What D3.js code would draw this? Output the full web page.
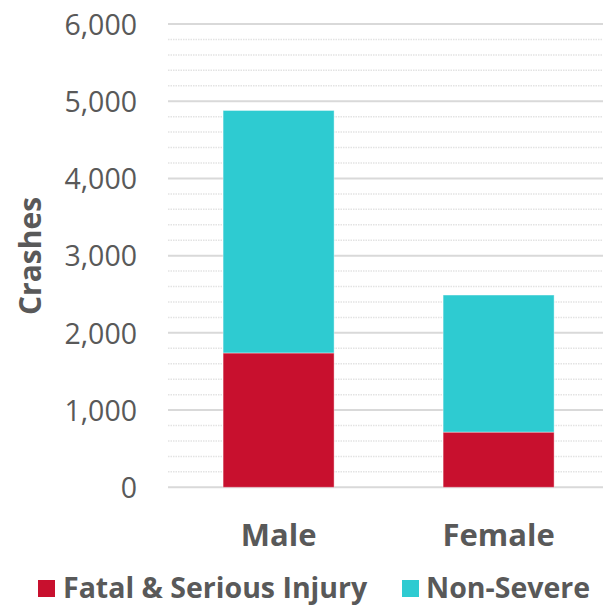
<!DOCTYPE html>
<html>
<head>
<meta charset="utf-8">
<script src="https://cdn.jsdelivr.net/npm/d3@7"></script>
<style>
  html, body { margin: 0; padding: 0; background: #fff; }
  svg { display: block; }
  text { font-family: "Open Sans", "Noto Sans", sans-serif; fill: #595959; }
</style>
</head>
<body>
<svg id="chart" width="604" height="605"></svg>
<script>
const categories = ["Male", "Female"];
const seriesNames = ["Fatal & Serious Injury", "Non-Severe"];
const fatalSerious = [1740, 715];
const nonSevere = [3140, 1775];
const yTicks = [0, 1000, 2000, 3000, 4000, 5000, 6000];
const minorTicks = d3.range(0, 6001, 200);
const colors = ["#C8102E", "#2ECBD1"];

const svg = d3.select("#chart");
const plot = { left: 168, right: 603, top: 24, bottom: 487.3 };

const y = d3.scaleLinear().domain([0, 6000]).range([plot.bottom, plot.top]);
const x = d3.scaleBand().domain(categories).range([168.6, 608.6])
  .paddingInner(0.4955).paddingOuter(0.2477);

// minor gridlines
svg.append("g").selectAll("line").data(minorTicks.filter(v => v % 1000 !== 0)).join("line")
  .attr("x1", plot.left).attr("x2", plot.right)
  .attr("y1", d => y(d)).attr("y2", d => y(d))
  .attr("stroke", "#e3e3e3").attr("stroke-width", 1.5).attr("stroke-dasharray", "1.5,1");

// major gridlines
svg.append("g").selectAll("line").data(yTicks).join("line")
  .attr("x1", plot.left).attr("x2", plot.right)
  .attr("y1", d => y(d)).attr("y2", d => y(d))
  .attr("stroke", "#d9d9d9").attr("stroke-width", 2);

// y axis labels
const yAxis = d3.axisLeft(y).tickValues(yTicks).tickFormat(d3.format(",")).tickSize(0).tickPadding(0);
const gy = svg.append("g").attr("transform", "translate(137,0)").call(yAxis);
gy.select(".domain").remove();
gy.selectAll("text").attr("font-size", 28.5).attr("fill", "#595959")
  .style("font-family", '"Open Sans", sans-serif').attr("dy", "0.36em");

// stacked bars
const table = categories.map((c, i) => ({ cat: c, fatal: fatalSerious[i], non: nonSevere[i] }));
const stack = d3.stack().keys(["fatal", "non"])(table);
svg.append("g").selectAll("g").data(stack).join("g")
  .attr("fill", (d, i) => colors[i])
  .selectAll("rect").data(d => d).join("rect")
  .attr("x", d => x(d.data.cat))
  .attr("width", x.bandwidth())
  .attr("y", d => y(d[1]))
  .attr("height", d => y(d[0]) - y(d[1]))
  .attr("stroke", "#ffffff").attr("stroke-opacity", 0.4).attr("stroke-width", 1);

// x axis labels
const xAxis = d3.axisBottom(x).tickSize(0).tickPadding(0);
const gx = svg.append("g").attr("transform", "translate(0,546)").call(xAxis);
gx.select(".domain").remove();
gx.selectAll("text").attr("font-size", 31).attr("font-weight", "bold").attr("fill", "#595959")
  .style("font-family", '"Open Sans", sans-serif').attr("dy", 0).attr("y", 0);

// y axis title
svg.append("text")
  .attr("transform", "translate(41,256) rotate(-90)")
  .attr("text-anchor", "middle")
  .attr("font-size", 30).attr("font-weight", "bold")
  .text("Crashes");

// legend
const legend = [
  { name: seriesNames[0], color: colors[0], sx: 38, tx: 63 },
  { name: seriesNames[1], color: colors[1], sx: 402, tx: 426 }
];
const lg = svg.append("g");
lg.selectAll("rect").data(legend).join("rect")
  .attr("x", d => d.sx).attr("y", 580).attr("width", 17).attr("height", 17)
  .attr("fill", d => d.color);
lg.selectAll("text").data(legend).join("text")
  .attr("x", d => d.tx).attr("y", 598)
  .attr("font-size", 28.5).attr("font-weight", "bold")
  .text(d => d.name);
</script>
</body>
</html>
